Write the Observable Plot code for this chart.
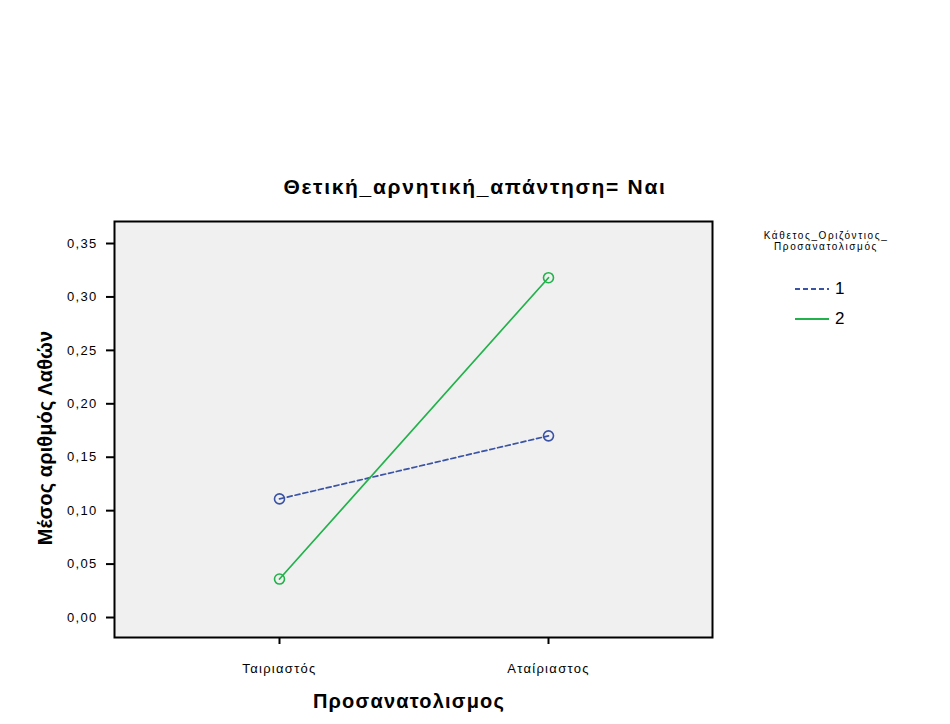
<!DOCTYPE html>
<html>
<head>
<meta charset="utf-8">
<script src="https://cdn.jsdelivr.net/npm/d3@7"></script>
<script src="https://cdn.jsdelivr.net/npm/@observablehq/plot@0.6"></script>
<style>
  html, body { margin: 0; padding: 0; background: #fff; }
  #wrap { position: relative; width: 950px; height: 724px; font-family: "Liberation Sans", Arial, sans-serif; }
  #chart { position: absolute; left: 0; top: 0; }
  #chart text { letter-spacing: 1.3px; }
  .abs { position: absolute; white-space: nowrap; color: #000; }
  #title { left: 475px; top: 187px; transform: translate(-50%, -50%); font-size: 21px; font-weight: bold; letter-spacing: 1.7px; }
  #xlabel { left: 409px; top: 701px; transform: translate(-50%, -50%); font-size: 20px; font-weight: bold; letter-spacing: 1.2px; }
  #ylabel { left: 45px; top: 438px; transform: translate(-50%, -50%) rotate(-90deg); font-size: 20px; font-weight: bold; letter-spacing: 0.1px; }
  #legtitle { left: 826px; top: 241px; transform: translate(-50%, -50%); font-size: 10px; text-align: center; line-height: 11px; letter-spacing: 1.6px; }
  .legrow { position: absolute; left: 795px; display: flex; align-items: center; font-size: 17px; }
  .legrow svg { margin-right: 6px; }
</style>
</head>
<body>
<div id="wrap">
  <div id="chart"></div>
  <div class="abs" id="title">Θετική_αρνητική_απάντηση= Ναι</div>
  <div class="abs" id="xlabel">Προσανατολισμος</div>
  <div class="abs" id="ylabel">Μέσος αριθμός Λαθών</div>
  <div class="abs" id="legtitle">Κάθετος_Οριζόντιος_<br>Προσανατολισμός</div>
  <div id="legend"></div>
</div>
<script>
const categories = ["Ταιριαστός", "Αταίριαστος"];
const seriesNames = ["1", "2"];
const series1 = [0.111, 0.170];
const series2 = [0.036, 0.318];
const yTicks = [0, 0.05, 0.10, 0.15, 0.20, 0.25, 0.30, 0.35];
const colors = ["#3a53a4", "#22b24b"];
const dashes = ["5,3", null];

const seriesValues = [series1, series2];
const rows = [];
seriesValues.forEach((vals, si) => {
  vals.forEach((v, ci) => rows.push({ series: seriesNames[si], cat: categories[ci], value: v }));
});

const fmt = d => d.toFixed(2).replace(".", ",");

const marks = [
  Plot.frame({ fill: "#f0f0f0" }),
  Plot.axisY({ ticks: yTicks, tickFormat: fmt, tickSize: 8, tickPadding: 9, fontSize: 13, stroke: "#000", strokeWidth: 2, label: null }),
  Plot.axisX({ tickSize: 7, tickPadding: 19, fontSize: 13, stroke: "#000", strokeWidth: 2, label: null })
];
seriesNames.forEach((s, i) => {
  const data = rows.filter(r => r.series === s);
  marks.push(Plot.line(data, { x: "cat", y: "value", stroke: colors[i], strokeWidth: 1.7, strokeDasharray: dashes[i] }));
  marks.push(Plot.dot(data, { x: "cat", y: "value", r: 5, stroke: colors[i], strokeWidth: 1.6, fill: "none" }));
});
marks.push(Plot.frame({ stroke: "#000", strokeWidth: 2 }));

const chart = Plot.plot({
  width: 950,
  height: 724,
  marginLeft: 114,
  marginRight: 238,
  marginTop: 221,
  marginBottom: 87,
  style: { fontFamily: "Liberation Sans, Arial, sans-serif", background: "transparent", color: "#000" },
  x: { type: "point", domain: categories, padding: 0.61, label: null },
  y: { domain: [-0.0187, 0.3706], label: null },
  marks
});
document.getElementById("chart").appendChild(chart);

const legend = document.getElementById("legend");
seriesNames.forEach((s, i) => {
  const row = document.createElement("div");
  row.className = "legrow";
  row.style.top = (279 + i * 30) + "px";
  row.innerHTML = `<svg width="34" height="18"><line x1="0" y1="9" x2="34" y2="9" stroke="${colors[i]}" stroke-width="2" ${dashes[i] ? `stroke-dasharray="${dashes[i]}"` : ""}/></svg><span>${s}</span>`;
  legend.appendChild(row);
});
</script>
</body>
</html>
